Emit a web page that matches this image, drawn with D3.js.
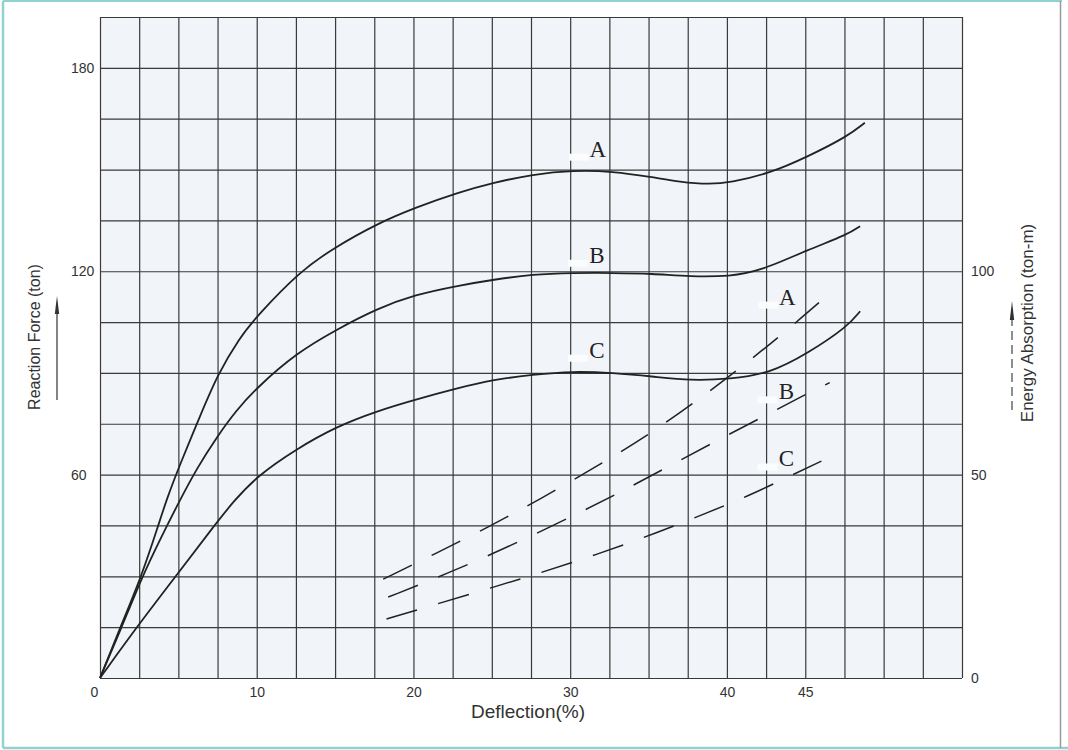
<!DOCTYPE html>
<html>
<head>
<meta charset="utf-8">
<script src="https://cdn.jsdelivr.net/npm/d3@7"></script>
<style>
  body { margin: 0; background: #fff; }
  svg { display: block; font-family: "Liberation Sans", Arial, Helvetica, sans-serif; }
  .grid line { stroke: #3a3a3a; stroke-width: 1.2; }
  .grid path { display: none; }
  .force { fill: none; stroke: #222; stroke-width: 1.8; }
  .energy { fill: none; stroke: #222; stroke-width: 1.5; stroke-dasharray: 32 22; }
  .ticks text { font-size: 14px; fill: #333; }
  .ticks path, .ticks line { display: none; }
  .title { font-size: 16px; fill: #333; }
  .curve-label { font-family: "Liberation Serif", "Times New Roman", serif; font-size: 23px; fill: #222; }
</style>
</head>
<body>
<div id="chart"></div>
<script>
// reaction force (ton) vs deflection (%), solid lines
const forceA = [[0,0],[1.3,15],[2.65,30],[3.72,45],[4.25,52.7],[5.1,63],[6.38,77.2],[7.5,89.5],[8.9,100.3],[10,106.7],
  [12.76,120],[14.9,126.8],[17.65,134],[20.2,138.9],[22.9,143.3],[25.1,146.1],[27.6,148.6],[30.2,149.8],[32.7,149.5],
  [35.2,147.8],[37,146.3],[38.9,145.6],[40.2,146.2],[42.7,148.8],[45.2,153.9],[47.7,159.8],[48.8,163.8]];
const forceB = [[0,0],[1.3,14],[2.7,30],[3.9,41.5],[5.1,52.5],[6.2,62],[7.44,71],[8.7,79],[10,85.6],[12.54,95.9],
  [15.1,102.8],[17.65,108.9],[20.1,113.1],[22.9,115.8],[25.1,117.5],[27.6,119.1],[30.2,119.5],[32.7,119.5],[35.2,119.3],
  [37.7,118.4],[40.2,118.5],[42.1,120],[45.2,126.4],[47.7,130.8],[48.5,133.3]];
const forceC = [[0,0],[2.5,16],[5,31],[7.3,45],[8.5,52],[10,59.5],[12.54,67.6],[15.1,74.2],[17.65,78.7],[20.1,82.1],
  [22.9,85.6],[25.1,88],[27.6,89.5],[30.2,90.5],[32.7,90],[35.2,89],[37.7,87.7],[40.2,88.2],[42.7,89.8],[45.2,95.9],
  [47.7,103.7],[48.5,108.2]];

// energy absorption (ton-m), dashed lines, right axis
const energyA = [[18.07,24.3],[21.26,30.3],[24.87,37.3],[28.06,43.9],[31.9,52.5],[34.65,58.9],[38.05,68.0],[41.14,77.1],[43.69,85.0],[46.24,93.5]];
const energyB = [[18.39,19.9],[22.0,25.4],[26.15,32.4],[30.6,40.6],[33.7,46.7],[36.9,53.3],[40.07,59.8],[42.6,64.8],[44.85,69.4],[46.56,72.6]];
const energyC = [[18.28,14.5],[21.15,17.8],[24.55,21.7],[27.74,25.4],[31.68,30.3],[35.6,35.8],[38.6,40.4],[41.35,44.7],[44.2,50.0],[46.03,53.3]];

const xTicks = [0, 10, 20, 30, 40, 45];
const forceTicks = [60, 120, 180];
const energyTicks = [0, 50, 100];

// curve name tags: [name, deflection, value]
const forceTags = [["A", 31.76, 153.8], ["B", 31.7, 122.5], ["C", 31.7, 94.5]];
const energyTags = [["A", 43.85, 91.8], ["B", 43.8, 68.5], ["C", 43.8, 52]];

const W = 1068, H = 750;
const pl = 100, pr = 962, pt = 17, pb = 678; // plot box

const x = d3.scaleLinear().domain([0, 55]).range([pl, pr]);
const yF = d3.scaleLinear().domain([0, 195]).range([pb, pt]);
const yE = d3.scaleLinear().domain([0, 162.5]).range([pb, pt]);

const svg = d3.select("#chart").append("svg")
  .attr("width", W).attr("height", H);

// page frame (scan edge)
svg.append("line").attr("x1", 3).attr("y1", 1).attr("x2", 1062).attr("y2", 1).attr("stroke", "#92d2d2").attr("stroke-width", 2);
svg.append("line").attr("x1", 3).attr("y1", 1).attr("x2", 3).attr("y2", 748).attr("stroke", "#92d2d2").attr("stroke-width", 2.5);
svg.append("line").attr("x1", 3).attr("y1", 748).attr("x2", 1068).attr("y2", 748).attr("stroke", "#92d2d2").attr("stroke-width", 2.5);
svg.append("line").attr("x1", 1060.5).attr("y1", 1).attr("x2", 1060.5).attr("y2", 748).attr("stroke", "#9a9a9a").attr("stroke-width", 1.5);

// plot paper
svg.append("rect").attr("x", pl).attr("y", pt).attr("width", pr - pl).attr("height", pb - pt)
  .attr("fill", "#f1f4f8");

// grid from axes
svg.append("g").attr("class", "grid").attr("transform", `translate(0,${pb})`)
  .call(d3.axisBottom(x).tickValues(d3.range(0, 55.01, 2.5)).tickSize(-(pb - pt)).tickFormat(""));
svg.append("g").attr("class", "grid").attr("transform", `translate(${pl},0)`)
  .call(d3.axisLeft(yF).tickValues(d3.range(0, 195.01, 15)).tickSize(-(pr - pl)).tickFormat(""));

// tick labels
const gx = svg.append("g").attr("class", "ticks").attr("transform", `translate(0,${pb})`)
  .call(d3.axisBottom(x).tickValues(xTicks).tickSize(0).tickPadding(9));
gx.selectAll("text").attr("dx", d => d === 0 ? -6 : 0);

const gl = svg.append("g").attr("class", "ticks").attr("transform", `translate(${pl},0)`)
  .call(d3.axisLeft(yF).tickValues(forceTicks).tickSize(0));
gl.selectAll("text").attr("text-anchor", "start").attr("x", -29);

svg.append("g").attr("class", "ticks").attr("transform", `translate(${pr},0)`)
  .call(d3.axisRight(yE).tickValues(energyTicks).tickSize(0).tickPadding(9));

// curves (basis keeps the hand-drawn look smooth)
const lineF = d3.line().x(d => x(d[0])).y(d => yF(d[1])).curve(d3.curveBasis);
const lineE = d3.line().x(d => x(d[0])).y(d => yE(d[1])).curve(d3.curveBasis);

svg.selectAll(".force").data([forceA, forceB, forceC]).enter()
  .append("path").attr("class", "force").attr("d", lineF);
svg.selectAll(".energy").data([energyA, energyB, energyC]).enter()
  .append("path").attr("class", "energy").attr("d", lineE);

// curve tags, with the white erasure the scan shows beside them
function tags(list, y) {
  const g = svg.append("g");
  g.selectAll("rect").data(list).enter().append("rect")
    .attr("x", d => x(d[1]) - 29).attr("y", d => y(d[2]) - 3)
    .attr("width", 20).attr("height", 7).attr("fill", "#fbfcfd");
  g.selectAll("text").data(list).enter().append("text")
    .attr("class", "curve-label")
    .attr("x", d => x(d[1])).attr("y", d => y(d[2]))
    .attr("text-anchor", "middle")
    .text(d => d[0]);
}
tags(forceTags, yF);
tags(energyTags, yE);

// axis titles
svg.append("text").attr("class", "title")
  .attr("x", 528).attr("y", 718).attr("text-anchor", "middle")
  .style("font-size", "19px").text("Deflection(%)");

svg.append("text").attr("class", "title")
  .attr("transform", "translate(40,337) rotate(-90)").attr("text-anchor", "middle")
  .text("Reaction Force (ton)");

svg.append("text").attr("class", "title")
  .attr("transform", "translate(1033,323) rotate(-90)").attr("text-anchor", "middle")
  .style("font-size", "17px").text("Energy Absorption (ton-m)");

// arrows next to titles
svg.append("line").attr("x1", 57).attr("y1", 400).attr("x2", 57).attr("y2", 310)
  .attr("stroke", "#333").attr("stroke-width", 1.2);
svg.append("path").attr("d", "M57,296 L54.8,314 L59.2,314 Z").attr("fill", "#333");

svg.append("line").attr("x1", 1012).attr("y1", 410).attr("x2", 1012).attr("y2", 316)
  .attr("stroke", "#444").attr("stroke-width", 1.2).attr("stroke-dasharray", "9 5");
svg.append("path").attr("d", "M1012,301 L1009.8,320 L1014.2,320 Z").attr("fill", "#333");
</script>
</body>
</html>
